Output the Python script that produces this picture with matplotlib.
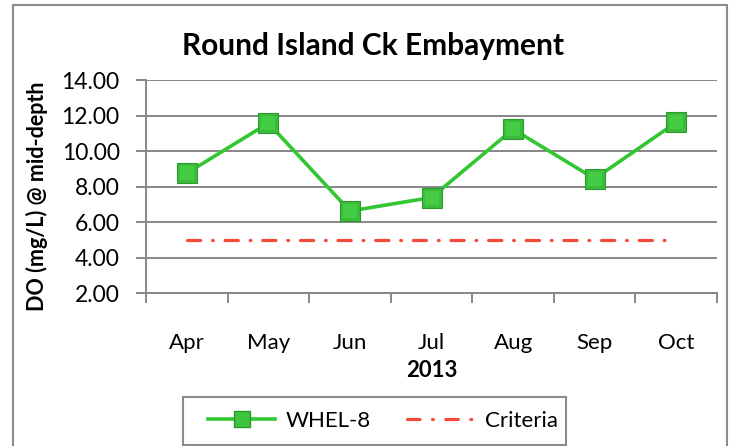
import matplotlib
matplotlib.use('Agg')
import matplotlib.pyplot as plt
from matplotlib.patches import Rectangle
from matplotlib.lines import Line2D

months = ['Apr', 'May', 'Jun', 'Jul', 'Aug', 'Sep', 'Oct']
whel8 = [8.75, 11.57, 6.62, 7.38, 11.23, 8.44, 11.61]
criteria = [5.0, 5.0, 5.0, 5.0, 5.0, 5.0, 5.0]
yticks = [2, 4, 6, 8, 10, 12, 14]

plt.rcParams['font.family'] = ['Lato', 'DejaVu Sans']
plt.rcParams['lines.scale_dashes'] = False

fig = plt.figure(figsize=(7.37, 4.46), dpi=100)
ax = fig.add_axes([146 / 737, 1 - 293 / 446, 571 / 737, 213 / 446])

grid_c = '#878787'
green = '#33C633'
red = '#F5493A'
x = list(range(len(months)))

ax.plot(x, criteria, color=red, lw=2.3, dashes=(9.5, 8.5, 0.6, 8.5),
        dash_capstyle='round', zorder=2)
ax.plot(x, whel8, color=green, lw=2.6, marker='s', markersize=14,
        markerfacecolor='#3ABD3A', markeredgecolor='#2E9A2E', markeredgewidth=0.8,
        zorder=3)
# lighter centre to mimic the bevelled markers
ax.plot(x, whel8, ls='none', marker='s', markersize=10,
        markerfacecolor='#45CC45', markeredgewidth=0, zorder=4)

ax.set_xlim(-0.5, len(months) - 0.5)
ax.set_ylim(2, 14)
ax.set_yticks(yticks)
ax.set_yticklabels(['%.2f' % v for v in yticks], fontsize=16.5)
ax.yaxis.grid(True, color=grid_c, lw=1.4)
ax.set_axisbelow(True)

ax.set_xticks([i - 0.5 for i in range(len(months) + 1)])
ax.set_xticklabels([])
ax.set_xticks(x, minor=True)
ax.set_xticklabels(months, minor=True, fontsize=16)
ax.tick_params(axis='x', which='minor', length=0, pad=29)
ax.tick_params(axis='x', which='major', length=7, width=1.4, color=grid_c, direction='out')
ax.tick_params(axis='y', length=7, width=1.4, color=grid_c, direction='out', pad=12)

for s in ['top', 'right']:
    ax.spines[s].set_visible(False)
for s in ['left', 'bottom']:
    ax.spines[s].set_color(grid_c)
    ax.spines[s].set_linewidth(1.4)

ax.set_xlabel('2013', fontsize=16, fontweight='bold', labelpad=5)
ax.set_ylabel('DO (mg/L) @ mid-depth', fontsize=15.5, fontweight='bold')
ax.yaxis.set_label_coords(-0.171, 0.455)
fig.text(373 / 737, 1 - 46 / 446, 'Round Island Ck Embayment', ha='center', va='center',
         fontsize=21.5, fontweight='bold')

# outer chart border (bottom edge is cut off in the original)
fig.patches.append(Rectangle((13 / 737, -0.1), 714 / 737, 1.1 - 5 / 446,
                             transform=fig.transFigure, fill=False,
                             edgecolor='#8C8C8C', lw=1.5))
# legend box
fig.patches.append(Rectangle((183 / 737, 1 - 445 / 446), 383 / 737, 48 / 446,
                             transform=fig.transFigure, fill=False,
                             edgecolor='#8C8C8C', lw=1.5))

handles = [
    Line2D([], [], color=green, lw=2.6, marker='s', markersize=11,
           markerfacecolor='#3CC43C', markeredgecolor='#2C9A2C'),
    Line2D([], [], color=red, lw=2.3, dashes=(9, 9, 0.6, 9), dash_capstyle='round'),
]
fig.legend(handles, ['WHEL-8', 'Criteria'], loc='center',
           bbox_to_anchor=(383 / 737, 1 - 421 / 446), ncol=2, fontsize=16,
           frameon=False, handlelength=3.0, handletextpad=0.5, columnspacing=1.6)

fig.savefig('out.png', dpi=100)
